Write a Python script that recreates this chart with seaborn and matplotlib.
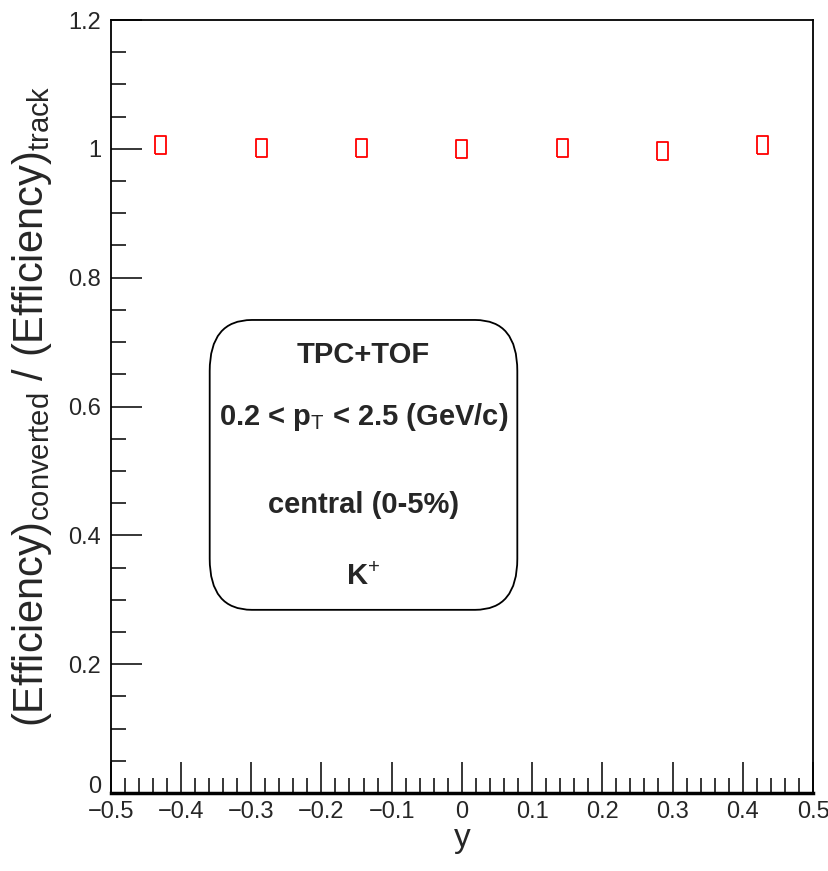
import matplotlib
matplotlib.use("Agg")
import matplotlib.pyplot as plt
import matplotlib.transforms as mtransforms
import seaborn as sns
import pandas as pd
from matplotlib.patches import FancyBboxPatch
from matplotlib.ticker import MultipleLocator

# data
rapidity = [-0.4286, -0.2857, -0.1429, 0.0, 0.1429, 0.2857, 0.4286]
ratio = [1.006, 1.001, 1.001, 1.000, 1.001, 0.997, 1.006]
xticks = [-0.5, -0.4, -0.3, -0.2, -0.1, 0, 0.1, 0.2, 0.3, 0.4, 0.5]
xticklabels = ["\u22120.5", "\u22120.4", "\u22120.3", "\u22120.2", "\u22120.1", "0", "0.1", "0.2", "0.3", "0.4", "0.5"]
yticks = [0, 0.2, 0.4, 0.6, 0.8, 1, 1.2]
yticklabels = ["0", "0.2", "0.4", "0.6", "0.8", "1", "1.2"]

sns.set_theme(style="white")
plt.rcParams['font.family'] = ['Liberation Sans', 'DejaVu Sans']
plt.rcParams['mathtext.fontset'] = 'custom'
plt.rcParams['mathtext.rm'] = 'Liberation Sans'
plt.rcParams['mathtext.it'] = 'Liberation Sans'
plt.rcParams['mathtext.bf'] = 'Liberation Sans:bold'

fig = plt.figure(figsize=(8.29, 8.71), dpi=100)
ax = fig.add_axes([0.1335, 0.0895, 0.8472, 0.8875])

df = pd.DataFrame({"y": rapidity, "ratio": ratio})
rect = [(-0.6, -1), (0.6, -1), (0.6, 1), (-0.6, 1), (-0.6, -1)]
sns.scatterplot(data=df, x="y", y="ratio", ax=ax, marker=rect, s=170,
                facecolor="none", edgecolor="#ff0000", linewidth=1.3, zorder=3)

ax.set_xlim(-0.5, 0.5)
ax.set_ylim(0, 1.2)
ax.set_xticks(xticks)
ax.set_xticklabels(xticklabels)
ax.set_yticks(yticks)
ax.set_yticklabels(yticklabels)
ax.xaxis.set_minor_locator(MultipleLocator(0.02))
ax.yaxis.set_minor_locator(MultipleLocator(0.05))
ax.tick_params(axis="x", which="major", direction="in", length=22, width=1.3,
               labelsize=17, pad=6, top=False, bottom=True)
ax.tick_params(axis="x", which="minor", direction="in", length=11, width=1.3,
               top=False, bottom=True)
ax.tick_params(axis="y", which="major", direction="in", length=22, width=1.3,
               labelsize=17, pad=7, left=True, right=False)
ax.tick_params(axis="y", which="minor", direction="in", length=11, width=1.3,
               left=True, right=False)
for side in ["left", "right", "top"]:
    ax.spines[side].set_linewidth(1.3)
    ax.spines[side].set_color("black")
ax.spines["bottom"].set_linewidth(2.5)
ax.spines["bottom"].set_color("black")

# nudge the "0" y tick label up a little
ylabs = ax.get_yticklabels()
ylabs[0].set_transform(ylabs[0].get_transform() +
                       mtransforms.ScaledTranslation(0, 6 / 72, fig.dpi_scale_trans))

ax.set_xlabel("y", fontsize=24, labelpad=0)
ax.set_ylabel(r"(Efficiency)$_{\rm converted}$ / (Efficiency)$_{\rm track}$",
              fontsize=30, labelpad=10)
ax.grid(False)

# rounded text box
box = FancyBboxPatch((0.141, 0.237), 0.438, 0.375,
                     boxstyle="round,pad=0,rounding_size=0.06",
                     transform=ax.transAxes, facecolor="white",
                     edgecolor="black", linewidth=1.3, zorder=4,
                     mutation_aspect=1.1)
ax.add_patch(box)
cx = 0.36
lines = [
    ("TPC+TOF", 0.567),
    (r"0.2 < p$_{\rm T}$ < 2.5 (GeV/c)", 0.487),
    ("central (0-5%)", 0.373),
    (r"K$^{+}$", 0.28),
]
for txt, yy in lines:
    ax.text(cx, yy, txt, transform=ax.transAxes, ha="center", va="center",
            fontsize=21, fontweight="bold", zorder=5)

fig.savefig("out.png", dpi=100)
